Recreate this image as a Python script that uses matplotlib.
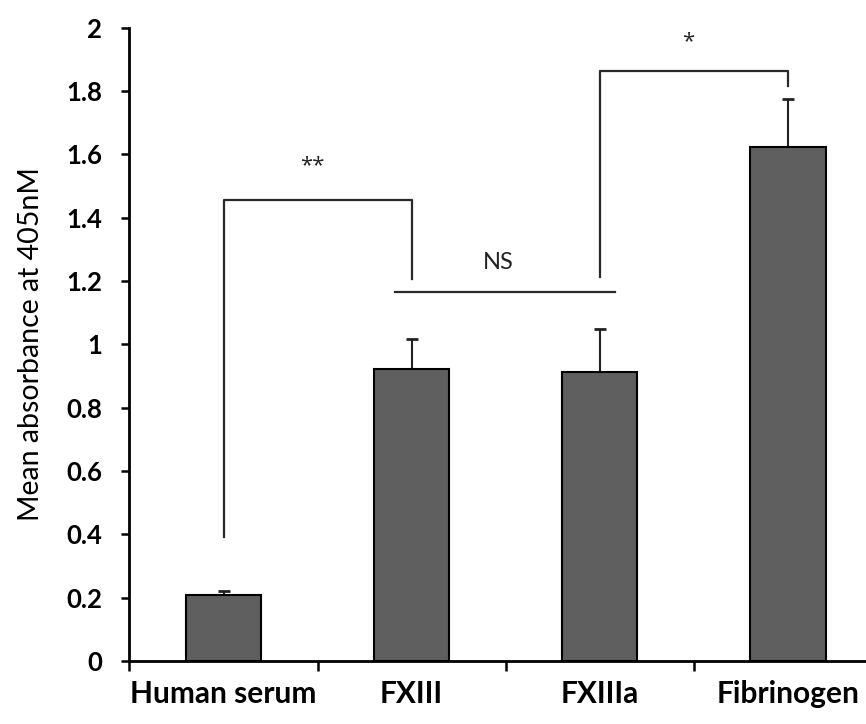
import numpy as np
import matplotlib.pyplot as plt

categories = ["Human serum", "FXIII", "FXIIIa", "Fibrinogen"]
means = [0.207, 0.922, 0.914, 1.622]
errors = [0.014, 0.096, 0.133, 0.154]

# significance brackets: (x_left, x_right, y_left_bottom, y_top, y_right_bottom, label, label_y)
brackets = [
    (0, 1, 0.392, 1.455, 1.208, "**", 1.565),
    (2, 3, 1.213, 1.863, 1.816, "*", 1.955),
]
ns_line = (0.91, 2.08, 1.164)
ns_label = ("NS", 1.46, 1.258)

fig = plt.figure(figsize=(8.66, 7.24), dpi=100)
ax = fig.add_axes([0.1495, 0.087, 0.869, 0.8747])

x = np.arange(len(categories))
ax.bar(x, means, width=0.40, color="#5f5f5f", edgecolor="black", linewidth=1.5, zorder=2)
ax.errorbar(x, means, yerr=[np.zeros(len(errors)), errors], fmt="none",
            ecolor="#222222", elinewidth=1.5, capsize=4.5, capthick=2, zorder=1)

line_kw = dict(color="#2a2a2a", linewidth=1.6)
for xl, xr, yl, yt, yr, lab, ly in brackets:
    ax.plot([xl, xl, xr, xr], [yl, yt, yt, yr], **line_kw)
    ax.text((xl + xr) / 2 - 0.03, ly, lab, ha="center", va="center",
            fontsize=16, family="Open Sans", color="#222222")
ax.plot([ns_line[0], ns_line[1]], [ns_line[2], ns_line[2]], **line_kw)
ax.text(ns_label[1], ns_label[2], ns_label[0], ha="center", va="center",
        fontsize=17, family="Lato", color="#222222")

ax.set_xlim(-0.5, 3.5)
ax.set_ylim(0, 2)
ax.set_yticks(np.arange(0, 2.01, 0.2))
ax.set_yticklabels(["0"] + [f"{v:g}" for v in np.arange(0.2, 2.01, 0.2)],
                   fontsize=18.5, fontweight="bold", family="Lato")

ax.set_xticks([-0.5, 0.5, 1.5, 2.5])
ax.set_xticklabels([])
ax.set_xticks(x, minor=True)
ax.set_xticklabels(categories, minor=True, fontsize=21.5, fontweight="bold", family="Lato")
ax.tick_params(axis="x", which="major", direction="out", length=7, width=1.8)
ax.tick_params(axis="x", which="minor", length=0, pad=14)
ax.tick_params(axis="y", direction="out", length=5.8, width=1.8, pad=14)

for s in ["top", "right"]:
    ax.spines[s].set_visible(False)
for s in ["left", "bottom"]:
    ax.spines[s].set_linewidth(2)

ax.set_ylabel("Mean absorbance at 405nM", fontsize=20.5, family="Lato", va="center")
ax.yaxis.set_label_coords(-0.131, 0.5)

fig.savefig("out.png", dpi=100)
